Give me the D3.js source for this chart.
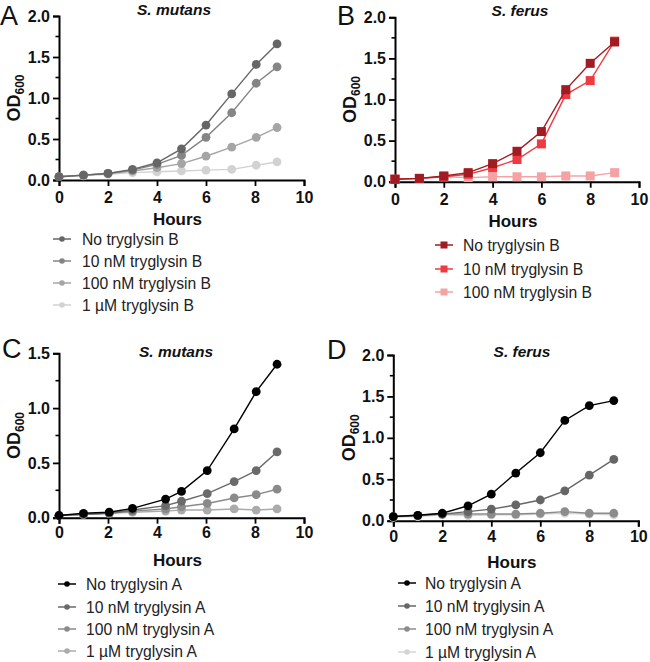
<!DOCTYPE html>
<html><head><meta charset="utf-8">
<script src="https://cdn.jsdelivr.net/npm/d3@7"></script>
<style>body{margin:0;background:#fff}svg{display:block;font-family:"Liberation Sans",Arial,sans-serif}</style>
</head><body><svg id="c" width="650" height="662"></svg>
<script>
// ---- Data ----
const xTicks = [0, 2, 4, 6, 8, 10];

// Panel A: S. mutans, tryglysin B
const aHours = [0, 1, 2, 3, 4, 5, 6, 7.05, 8.05, 8.9];
const aLabels = ["No tryglysin B", "10 nM tryglysin B", "100 nM tryglysin B", "1 \u00b5M tryglysin B"];
const aNo    = [0.04, 0.06, 0.08, 0.13, 0.21, 0.38, 0.67, 1.05, 1.41, 1.66];
const a10nM  = [0.04, 0.06, 0.08, 0.12, 0.19, 0.30, 0.52, 0.82, 1.18, 1.38];
const a100nM = [0.04, 0.06, 0.08, 0.11, 0.15, 0.20, 0.29, 0.40, 0.52, 0.64];
const a1uM   = [0.04, 0.05, 0.07, 0.09, 0.10, 0.11, 0.12, 0.13, 0.18, 0.22];
const aColors = ["#666666", "#858585", "#a5a5a5", "#d2d2d2"];

// Panel B: S. ferus, tryglysin B
const bHours = [0, 1, 2, 3, 4, 5, 6, 7, 8, 9];
const bLabels = ["No tryglysin B", "10 nM tryglysin B", "100 nM tryglysin B"];
const bNo    = [0.03, 0.04, 0.07, 0.11, 0.22, 0.37, 0.61, 1.12, 1.44, 1.70];
const b10nM  = [0.03, 0.04, 0.06, 0.09, 0.17, 0.27, 0.46, 1.06, 1.23, 1.71];
const b100nM = [0.03, 0.04, 0.06, 0.05, 0.06, 0.06, 0.06, 0.07, 0.07, 0.11];
const bColors = ["#a01c22", "#ee3a41", "#f5a2a5"];

// Panel C: S. mutans, tryglysin A
const cHours = [0, 1, 2.05, 3, 4.35, 5, 6.05, 7.15, 8.05, 8.9];
const cLabels = ["No tryglysin A", "10 nM tryglysin A", "100 nM tryglysin A", "1 \u00b5M tryglysin A"];
const cNo    = [0.02, 0.04, 0.05, 0.085, 0.17, 0.24, 0.43, 0.81, 1.15, 1.40];
const c10nM  = [0.02, 0.03, 0.04, 0.07, 0.11, 0.15, 0.22, 0.33, 0.43, 0.60];
const c100nM = [0.02, 0.03, 0.04, 0.06, 0.08, 0.10, 0.13, 0.18, 0.21, 0.26];
const c1uM   = [0.02, 0.03, 0.04, 0.05, 0.06, 0.07, 0.07, 0.08, 0.07, 0.08];
const cColors = ["#000000", "#6a6a6a", "#8a8a8a", "#ababab"];

// Panel D: S. ferus, tryglysin A
const dHours = [0, 1, 2, 3.05, 4, 5, 6, 7, 8, 9];
const dLabels = ["No tryglysin A", "10 nM tryglysin A", "100 nM tryglysin A", "1 \u00b5M tryglysin A"];
const dNo    = [0.05, 0.065, 0.09, 0.18, 0.32, 0.575, 0.82, 1.21, 1.39, 1.45];
const d10nM  = [0.05, 0.065, 0.08, 0.11, 0.14, 0.19, 0.25, 0.36, 0.55, 0.74];
const d100nM = [0.05, 0.06, 0.08, 0.08, 0.08, 0.08, 0.09, 0.11, 0.09, 0.09];
const d1uM   = [0.04, 0.05, 0.07, 0.06, 0.07, 0.07, 0.08, 0.09, 0.08, 0.07];
const dColors = ["#000000", "#666666", "#8c8c8c", "#d4d4d4"];

// ---- Panels ----
const panels = [
  {letter:"A", lx:0, ly:25, title:"S. mutans", tx:174, tyOff:-1, x0:59, x1:304, yb:180, yt:16, ymax:2, yTicks:[0,0.5,1,1.5,2],
   hours:aHours, series:[aNo,a10nM,a100nM,a1uM], labels:aLabels, colors:aColors, shape:"circle",
   tickOff:23, hoursOff:45, odX:20, legX:62, legTextX:82, legY:[239,261,283,305]},
  {letter:"B", lx:337, ly:25, title:"S. ferus", tx:520, tyOff:-1, x0:395, x1:639, yb:181.7, yt:17.3, ymax:2, yTicks:[0,0.5,1,1.5,2],
   hours:bHours, series:[bNo,b10nM,b100nM], labels:bLabels, colors:bColors, shape:"square",
   tickOff:23, hoursOff:45, odX:356, legX:444, legTextX:463, legY:[245,269,292]},
  {letter:"C", lx:2, ly:358, title:"S. mutans", tx:176, tyOff:4, x0:59, x1:304, yb:517.7, yt:353.3, ymax:1.5, yTicks:[0,0.5,1,1.5],
   hours:cHours, series:[cNo,c10nM,c100nM,c1uM], labels:cLabels, colors:cColors, shape:"circle",
   tickOff:20, hoursOff:48, odX:20, legX:67, legTextX:86, legY:[584,607,629,651]},
  {letter:"D", lx:327, ly:359, title:"S. ferus", tx:522, tyOff:2, x0:393.3, x1:638.3, yb:520.7, yt:355, ymax:2, yTicks:[0,0.5,1,1.5,2],
   hours:dHours, series:[dNo,d10nM,d100nM,d1uM], labels:dLabels, colors:dColors, shape:"circle",
   tickOff:21, hoursOff:47, odX:355, legX:407, legTextX:425, legY:[583,606,629,652]}
];

const svg = d3.select("#c");

panels.forEach(p => {
  const g = svg.append("g");
  const x = d3.scaleLinear().domain([0,10]).range([p.x0, p.x1]);
  const y = d3.scaleLinear().domain([0,p.ymax]).range([p.yb, p.yt]);

  // panel letter
  g.append("text").attr("x", p.lx).attr("y", p.ly).attr("font-size", 27).attr("fill","#111").text(p.letter);
  // title
  g.append("text").attr("x", p.tx).attr("y", p.yt + p.tyOff).attr("text-anchor","middle")
    .attr("font-size", 15.5).attr("font-weight","bold").attr("font-style","italic").attr("fill","#111").text(p.title);

  // minor y ticks
  const minor = d3.range(0.25, p.ymax, 0.5);
  g.append("g").selectAll("line").data(minor).join("line")
    .attr("x1", p.x0 - 3.5).attr("x2", p.x0).attr("y1", d => y(d)).attr("y2", d => y(d))
    .attr("stroke","#000").attr("stroke-width",1.6);

  // y axis
  const ya = g.append("g").attr("transform", `translate(${p.x0},0)`)
    .call(d3.axisLeft(y).tickValues(p.yTicks).tickFormat(d3.format(".1f")).tickSizeOuter(0).tickSize(6).tickPadding(3));
  // x axis
  const xa = g.append("g").attr("transform", `translate(0,${p.yb})`)
    .call(d3.axisBottom(x).tickValues(xTicks).tickFormat(d3.format("d")).tickSizeOuter(0).tickSize(6).tickPadding(p.tickOff - 17));
  [ya, xa].forEach(a => {
    a.select(".domain").attr("stroke","#000").attr("stroke-width",2);
    a.selectAll(".tick line").attr("stroke","#000").attr("stroke-width",1.8);
    a.selectAll(".tick text").attr("font-size",16).attr("font-weight","bold").attr("fill","#111")
      .attr("font-family",'"Liberation Sans",Arial,sans-serif');
  });

  // axis titles
  g.append("text").attr("x", (p.x0+p.x1)/2 - 4).attr("y", p.yb + p.hoursOff).attr("text-anchor","middle")
    .attr("font-size",17).attr("font-weight","bold").attr("fill","#111").text("Hours");
  const od = g.append("text").attr("transform", `translate(${p.odX},${(p.yb+p.yt)/2}) rotate(-90)`)
    .attr("text-anchor","middle").attr("font-weight","bold").attr("fill","#111").attr("font-size",18);
  od.append("tspan").text("OD");
  od.append("tspan").attr("font-size",12).attr("dy",4).text("600");

  // series (draw lightest first so first series on top)
  const line = d3.line().x((d,i) => x(p.hours[i])).y(d => y(d));
  const idx = d3.range(p.series.length).reverse();
  idx.forEach(k => {
    const vals = p.series[k], col = p.colors[k];
    g.append("path").datum(vals).attr("d", line).attr("fill","none").attr("stroke",col).attr("stroke-width",1.4);
    if (p.shape === "circle") {
      g.append("g").selectAll("circle").data(vals).join("circle")
        .attr("cx",(d,i)=>x(p.hours[i])).attr("cy",d=>y(d)).attr("r",4.4).attr("fill",col);
    } else {
      g.append("g").selectAll("rect").data(vals).join("rect")
        .attr("x",(d,i)=>x(p.hours[i])-4.5).attr("y",d=>y(d)-4.5).attr("width",9).attr("height",9).attr("fill",col);
    }
  });

  // legend
  p.labels.forEach((lab, k) => {
    const ly = p.legY[k], col = p.colors[k];
    g.append("line").attr("x1", p.legX-9).attr("x2", p.legX+9).attr("y1", ly).attr("y2", ly)
      .attr("stroke", col).attr("stroke-width",1.5);
    if (p.shape === "circle") g.append("circle").attr("cx",p.legX).attr("cy",ly).attr("r",2.8).attr("fill",col);
    else g.append("rect").attr("x",p.legX-3.5).attr("y",ly-3.5).attr("width",7).attr("height",7).attr("fill",col);
    g.append("text").attr("x", p.legTextX).attr("y", ly + 5.5).attr("font-size",15.7).attr("fill","#222").text(lab);
  });
});
</script></body></html>
